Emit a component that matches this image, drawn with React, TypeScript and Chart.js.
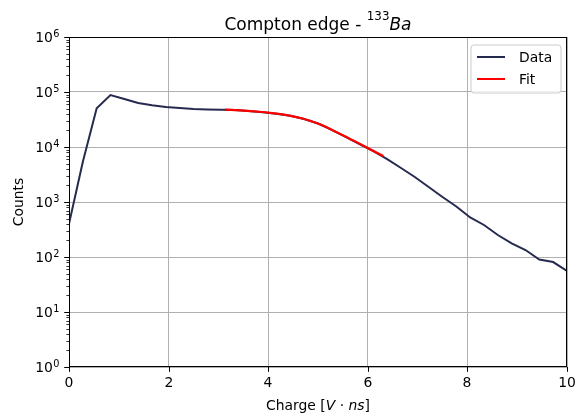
import React, { useEffect, useRef } from 'react';
import { Chart, registerables } from 'chart.js';

Chart.register(...registerables);

// ---- data ----
const chargeBins = [
  0, 0.278, 0.556, 0.833, 1.111, 1.389, 1.667, 1.944, 2.222, 2.5, 2.778, 3.056,
  3.333, 3.611, 3.889, 4.167, 4.444, 4.722, 5.0, 5.278, 5.556, 5.833, 6.111,
  6.389, 6.667, 6.944, 7.222, 7.5, 7.778, 8.056, 8.333, 8.611, 8.889, 9.167,
  9.444, 9.722, 10.0,
];
const counts = [
  400, 5400, 50600, 88200, 74600, 63100, 57300, 53400, 51200, 49100, 48100,
  47700, 47100, 45200, 43000, 40400, 37000, 32300, 26700, 20500, 15300, 11300,
  8400, 6000, 4150, 2850, 1875, 1232, 828, 523, 382, 251, 177, 134, 90, 81, 56,
];
const fitCharge = [3.13, 3.5, 3.82, 4.036, 4.371, 4.705, 5.04, 5.375, 5.709, 6.01, 6.311];
const fitCounts = [47700, 46000, 43700, 41800, 38100, 32700, 25900, 18600, 13100, 9500, 6850];

const xTickValues = [0, 2, 4, 6, 8, 10];
const yDecades = [0, 1, 2, 3, 4, 5, 6];
const seriesNames = ['Data', 'Fit'];

const FONT = '"DejaVu Sans"';
const DATA_COLOR = '#262a4f';
const FIT_COLOR = '#ff0000';
const GRID_COLOR = '#b0b0b0';
const TICK_PX = 13.9;
const TITLE_PX = 17;

function drawPower(ctx: CanvasRenderingContext2D, exp: number, xRight: number, y: number) {
  const supPx = TICK_PX * 0.7;
  ctx.font = `${supPx}px ${FONT}`;
  const supW = ctx.measureText(String(exp)).width;
  ctx.font = `${TICK_PX}px ${FONT}`;
  const baseW = ctx.measureText('10').width;
  const x0 = xRight - supW - baseW - 0.5;
  ctx.textAlign = 'left';
  ctx.textBaseline = 'alphabetic';
  ctx.fillText('10', x0, y + 5);
  ctx.font = `${supPx}px ${FONT}`;
  ctx.fillText(String(exp), x0 + baseW + 0.5, y + 5 - 5);
}

const decorPlugin = {
  id: 'decor',
  afterDraw(chart: any) {
    const { ctx, chartArea: a, scales } = chart;
    const xs = scales.x;
    const ys = scales.y;
    ctx.save();
    ctx.fillStyle = '#000';
    ctx.strokeStyle = '#000';

    // spines
    ctx.lineWidth = 1;
    ctx.strokeRect(Math.round(a.left) + 0.5, Math.round(a.top) + 0.5,
      Math.round(a.right - a.left) - 1, Math.round(a.bottom - a.top) - 1);

    // x ticks + labels
    ctx.font = `${TICK_PX}px ${FONT}`;
    ctx.textAlign = 'center';
    ctx.textBaseline = 'top';
    xTickValues.forEach((v) => {
      const px = Math.round(xs.getPixelForValue(v));
      ctx.beginPath();
      ctx.moveTo(px + 0.5, a.bottom);
      ctx.lineTo(px + 0.5, a.bottom + 4.8);
      ctx.stroke();
      ctx.fillText(String(v), px, a.bottom + 9);
    });

    // y major / minor ticks + labels
    yDecades.forEach((e) => {
      const py = Math.round(ys.getPixelForValue(Math.pow(10, e)));
      ctx.beginPath();
      ctx.moveTo(a.left - 4.8, py + 0.5);
      ctx.lineTo(a.left, py + 0.5);
      ctx.stroke();
      drawPower(ctx, e, a.left - 9.5, py);
      if (e < 6) {
        for (let m = 2; m <= 9; m++) {
          const pm = Math.round(ys.getPixelForValue(m * Math.pow(10, e)));
          ctx.beginPath();
          ctx.lineWidth = 0.8;
          ctx.moveTo(a.left - 2.6, pm + 0.5);
          ctx.lineTo(a.left, pm + 0.5);
          ctx.stroke();
          ctx.lineWidth = 1;
        }
      }
    });

    // x axis label: Charge [V·ns]
    const xParts = [
      { t: 'Charge [', it: false },
      { t: 'V', it: true },
      { t: ' \u00b7 ', it: false },
      { t: 'ns', it: true },
      { t: ']', it: false },
    ];
    let total = 0;
    xParts.forEach((p) => {
      ctx.font = `${p.it ? 'italic ' : ''}${TICK_PX}px ${FONT}`;
      total += ctx.measureText(p.t).width;
    });
    let cx = (a.left + a.right) / 2 - total / 2;
    ctx.textAlign = 'left';
    ctx.textBaseline = 'alphabetic';
    xParts.forEach((p) => {
      ctx.font = `${p.it ? 'italic ' : ''}${TICK_PX}px ${FONT}`;
      ctx.fillText(p.t, cx, 410);
      cx += ctx.measureText(p.t).width;
    });

    // y axis label
    ctx.save();
    ctx.translate(19, (a.top + a.bottom) / 2);
    ctx.rotate(-Math.PI / 2);
    ctx.font = `${TICK_PX}px ${FONT}`;
    ctx.textAlign = 'center';
    ctx.textBaseline = 'middle';
    ctx.fillText('Counts', 0, 0);
    ctx.restore();

    // title: Compton edge - ^{133}Ba
    const supPx = TITLE_PX * 0.7;
    const tParts = [
      { t: 'Compton edge - ', font: `${TITLE_PX}px ${FONT}`, dy: 0 },
      { t: '133', font: `${supPx}px ${FONT}`, dy: -10 },
      { t: 'Ba', font: `italic ${TITLE_PX}px ${FONT}`, dy: 0 },
    ];
    total = 0;
    tParts.forEach((p) => { ctx.font = p.font; total += ctx.measureText(p.t).width; });
    cx = (a.left + a.right) / 2 - total / 2;
    tParts.forEach((p) => {
      ctx.font = p.font;
      ctx.fillText(p.t, cx, 30 + p.dy);
      cx += ctx.measureText(p.t).width;
    });

    // legend
    const lx = 471, ly = 45, lw = 90, lh = 48, r = 3;
    ctx.beginPath();
    ctx.moveTo(lx + r, ly);
    ctx.arcTo(lx + lw, ly, lx + lw, ly + lh, r);
    ctx.arcTo(lx + lw, ly + lh, lx, ly + lh, r);
    ctx.arcTo(lx, ly + lh, lx, ly, r);
    ctx.arcTo(lx, ly, lx + lw, ly, r);
    ctx.closePath();
    ctx.fillStyle = 'rgba(255,255,255,0.8)';
    ctx.fill();
    ctx.strokeStyle = '#cccccc';
    ctx.lineWidth = 1;
    ctx.stroke();
    const colors = [DATA_COLOR, FIT_COLOR];
    seriesNames.forEach((name, i) => {
      const yy = 57 + i * 22;
      ctx.strokeStyle = colors[i];
      ctx.lineWidth = 2;
      ctx.beginPath();
      ctx.moveTo(477, yy);
      ctx.lineTo(505, yy);
      ctx.stroke();
      ctx.fillStyle = '#000';
      ctx.font = `${TICK_PX}px ${FONT}`;
      ctx.textAlign = 'left';
      ctx.textBaseline = 'middle';
      ctx.fillText(name, 519, yy + 1);
    });

    ctx.restore();
  },
};

export default function App() {
  const canvasRef = useRef<HTMLCanvasElement | null>(null);

  useEffect(() => {
    if (!canvasRef.current) return;
    const chart = new Chart(canvasRef.current, {
      type: 'line',
      data: {
        datasets: [
          {
            label: seriesNames[0],
            data: chargeBins.map((x, i) => ({ x, y: counts[i] })),
            borderColor: DATA_COLOR,
            borderWidth: 2,
            pointRadius: 0,
            tension: 0,
            fill: false,
            order: 2,
          },
          {
            label: seriesNames[1],
            data: fitCharge.map((x, i) => ({ x, y: fitCounts[i] })),
            borderColor: FIT_COLOR,
            borderWidth: 2.2,
            pointRadius: 0,
            cubicInterpolationMode: 'monotone',
            fill: false,
            order: 1,
          },
        ],
      },
      options: {
        animation: false,
        responsive: true,
        maintainAspectRatio: false,
        events: [],
        layout: { padding: { left: 0, right: 10, top: 37, bottom: 0 } },
        plugins: {
          legend: { display: false },
          title: { display: false },
          tooltip: { enabled: false },
        },
        scales: {
          x: {
            type: 'linear',
            min: 0,
            max: 10,
            ticks: { display: false },
            grid: { color: GRID_COLOR, lineWidth: 1, drawTicks: false },
            border: { display: false },
            afterBuildTicks: (s: any) => { s.ticks = xTickValues.map((v) => ({ value: v })); },
            afterFit: (s: any) => { s.height = 48; },
          },
          y: {
            type: 'logarithmic',
            min: 1,
            max: 1e6,
            ticks: { display: false },
            grid: { color: GRID_COLOR, lineWidth: 1, drawTicks: false },
            border: { display: false },
            afterBuildTicks: (s: any) => {
              s.ticks = yDecades.map((e) => ({ value: Math.pow(10, e), major: true }));
            },
            afterFit: (s: any) => { s.width = 69; },
          },
        },
      } as any,
      plugins: [decorPlugin],
    });
    return () => chart.destroy();
  }, []);

  return (
    <div style={{ position: 'fixed', left: 0, top: 0, width: 577, height: 415, background: '#fff' }}>
      <canvas ref={canvasRef} />
    </div>
  );
}
